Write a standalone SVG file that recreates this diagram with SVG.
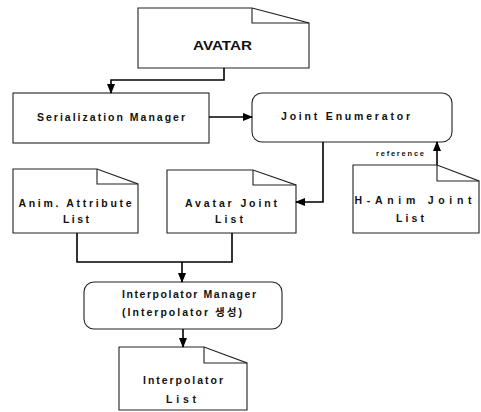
<svg xmlns="http://www.w3.org/2000/svg" width="481" height="412" viewBox="0 0 481 412">
<defs>
<marker id="arr" markerUnits="userSpaceOnUse" markerWidth="10" markerHeight="8" refX="9" refY="4" orient="auto">
<path d="M0,0 L10,4 L0,8 Z" fill="#000"/>
</marker>
<style>
.box{fill:#fff;stroke:#222;stroke-width:1.1}
.fold{fill:none;stroke:#222;stroke-width:1.1}
.con{fill:none;stroke:#000;stroke-width:1.6}
text{font-family:"Liberation Sans","Noto Sans CJK KR",sans-serif;font-weight:bold;fill:#111;text-anchor:middle}
.t{font-size:10.5px}
.big{font-size:13px}
.small{font-size:7.5px}
</style>
</defs>
<rect width="481" height="412" fill="#fff"/>
<g id="avatar">
<path class="box" d="M138,8 H252 L309,23 V68 H138 Z"/>
<path class="fold" d="M252,8 V23 H309"/>
<text class="big" x="222.5" y="50" textLength="59" lengthAdjust="spacingAndGlyphs">AVATAR</text>
</g>
<g id="serialization-manager">
<rect class="box" x="13" y="93" width="196" height="50"/>
<text class="t" x="111" y="121" textLength="148" lengthAdjust="spacing">Serialization  Manager</text>
</g>
<g id="joint-enumerator">
<rect class="box" x="252" y="93" width="200" height="49" rx="10"/>
<text class="t" x="345.5" y="120" textLength="129" lengthAdjust="spacing">Joint  Enumerator</text>
</g>
<g id="anim-attribute-list">
<path class="box" d="M13,169 H97 L138,184 V233 H13 Z"/>
<path class="fold" d="M97,169 V184 H138"/>
<text class="t" x="75" y="207" textLength="113" lengthAdjust="spacing">Anim. Attribute</text>
<text class="t" x="76" y="223" textLength="26" lengthAdjust="spacing">List</text>
</g>
<g id="avatar-joint-list">
<path class="box" d="M167,170 H253 L296,185 V233 H167 Z"/>
<path class="fold" d="M253,170 V185 H296"/>
<text class="t" x="231" y="207" textLength="92" lengthAdjust="spacing">Avatar Joint</text>
<text class="t" x="229" y="223" textLength="28" lengthAdjust="spacing">List</text>
</g>
<g id="h-anim-joint-list">
<path class="box" d="M353,165 H437 L479,181 V233 H353 Z"/>
<path class="fold" d="M437,165 V181 H479"/>
<text class="t" x="413" y="204" textLength="117" lengthAdjust="spacing">H-Anim  Joint</text>
<text class="t" x="410" y="222" textLength="28" lengthAdjust="spacing">List</text>
</g>
<g id="interpolator-manager">
<rect class="box" x="84" y="282" width="198" height="47" rx="10"/>
<text class="t" x="189" y="298" textLength="134" lengthAdjust="spacing">Interpolator  Manager</text>
<text class="t" x="182" y="316" textLength="120" lengthAdjust="spacing">(Interpolator 생성)</text>
</g>
<g id="interpolator-list">
<path class="box" d="M119,347 H204 L247,363 V410 H119 Z"/>
<path class="fold" d="M204,347 V363 H247"/>
<text class="t" x="183" y="384" textLength="80" lengthAdjust="spacing">Interpolator</text>
<text class="t" x="181" y="403" textLength="30" lengthAdjust="spacing">List</text>
</g>
<g id="connectors">
<path class="con" d="M224,68 V80 H111 V93" marker-end="url(#arr)"/>
<path class="con" d="M209,117 H252" marker-end="url(#arr)"/>
<path class="con" d="M323,142 V202 H296" marker-end="url(#arr)"/>
<path class="con" d="M437,165 V142" marker-end="url(#arr)"/>
<path class="con" d="M77,233 V262 H232 V233"/>
<path class="con" d="M182,262 V282" marker-end="url(#arr)"/>
<path class="con" d="M183,329 V347" marker-end="url(#arr)"/>
<text class="small" x="400" y="156" textLength="48" lengthAdjust="spacing">reference</text>
</g>
</svg>
